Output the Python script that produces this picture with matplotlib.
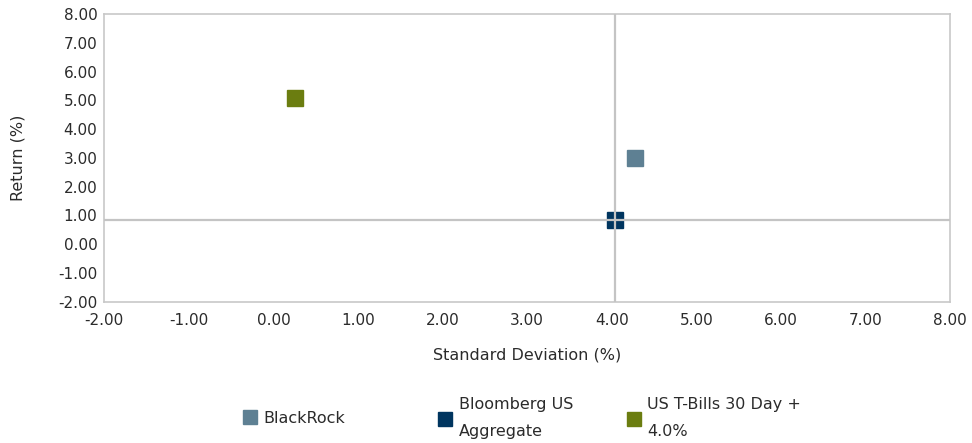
"""Risk / return scatter: BlackRock vs. benchmarks."""

import matplotlib
matplotlib.use("Agg")
import matplotlib.pyplot as plt
from matplotlib.lines import Line2D
from matplotlib.ticker import FormatStrFormatter

plt.rcParams["font.family"] = ["DejaVu Sans"]

# data
names = ["BlackRock", "Bloomberg US\nAggregate", "US T-Bills 30 Day +\n4.0%"]
std_dev = [4.27, 4.04, 0.26]
returns = [3.01, 0.84, 5.09]
colors = ["#5e8093", "#00355f", "#6b7d10"]

x_ticks = [-2, -1, 0, 1, 2, 3, 4, 5, 6, 7, 8]
y_ticks = [-2, -1, 0, 1, 2, 3, 4, 5, 6, 7, 8]

text_color = "#2b2b2b"
frame_color = "#c8c8c8"

fig = plt.figure(figsize=(9.72, 4.43), dpi=100)
ax = fig.add_axes([0.1073, 0.319, 0.8701, 0.649])

for x, y, c in zip(std_dev, returns, colors):
    ax.plot(x, y, marker="s", markersize=11.5, color=c, linestyle="none", zorder=2)

# crosshair through the benchmark
ax.axvline(std_dev[1], color="#c4c4c4", linewidth=1.6, zorder=3)
ax.axhline(returns[1], color="#c4c4c4", linewidth=1.6, zorder=3)

ax.set_xlim(x_ticks[0], x_ticks[-1])
ax.set_ylim(y_ticks[0], y_ticks[-1])
ax.set_xticks(x_ticks)
ax.set_yticks(y_ticks)
ax.xaxis.set_major_formatter(FormatStrFormatter("%.2f"))
ax.yaxis.set_major_formatter(FormatStrFormatter("%.2f"))
ax.tick_params(length=0, labelsize=11, colors=text_color)
ax.tick_params(axis="x", pad=8)
ax.tick_params(axis="y", pad=5)

for s in ax.spines.values():
    s.set_color(frame_color)
    s.set_linewidth(1.2)

ax.set_xlabel("Standard Deviation (%)", fontsize=11.5, color=text_color, labelpad=14)
ax.set_ylabel("Return (%)", fontsize=11.5, color=text_color)
ax.yaxis.set_label_coords(-0.093, 0.5)

# legend: three fixed-width slots like the original
legend_x = [0.242, 0.443, 0.637]
for name, c, lx in zip(names, colors, legend_x):
    h = Line2D([], [], marker="s", markersize=10, color=c, linestyle="none")
    leg = fig.legend([h], [name], loc="center left", bbox_to_anchor=(lx, 0.056),
                     frameon=False, fontsize=11.5, handletextpad=0.35,
                     handlelength=1.0, borderaxespad=0, labelcolor=text_color)
    for t in leg.get_texts():
        t.set_linespacing(2.0)

fig.savefig("out.png", dpi=100)
